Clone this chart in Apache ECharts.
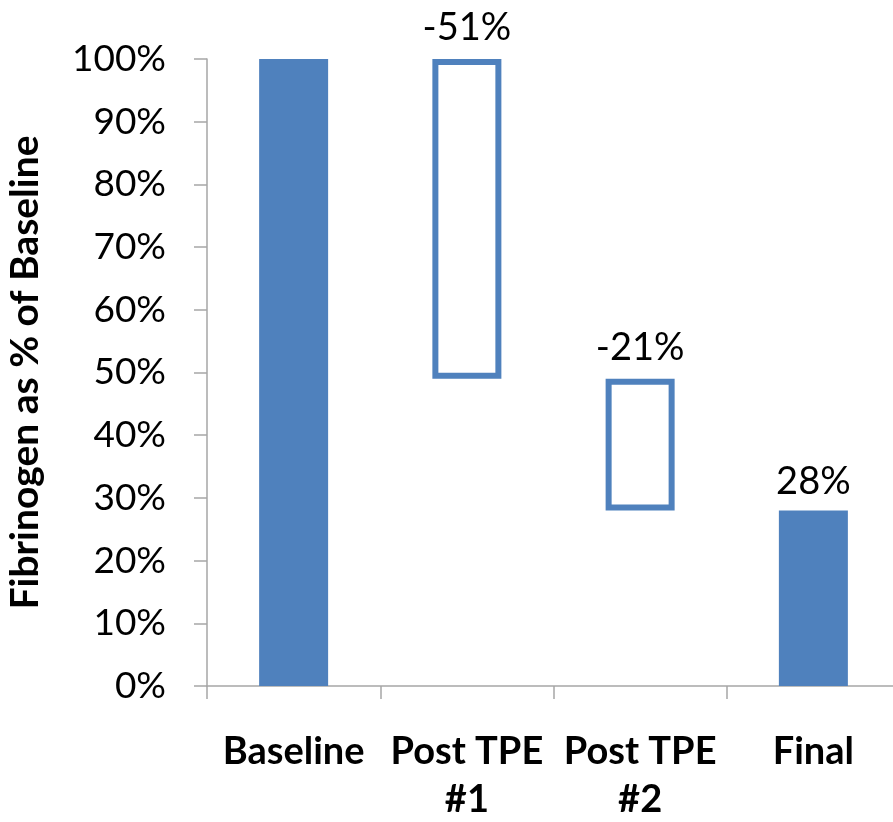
<!DOCTYPE html>
<html>
<head>
<meta charset="utf-8">
<script src="https://cdn.jsdelivr.net/npm/echarts@6/dist/echarts.min.js"></script>
<style>
html,body{margin:0;padding:0;background:#fff;}
#chart{width:893px;height:822px;}
</style>
</head>
<body>
<div id="chart"></div>
<script>
var categories = ['Baseline', 'Post TPE\n#1', 'Post TPE\n#2', 'Final'];
var baseValues = [0, 49, 28, 0];
var filledValues = [100, '-', '-', 28];
var hollowValues = ['-', 51, 21, '-'];
var barLabels = ['', '-51%', '-21%', '28%'];
var yTicks = [0, 10, 20, 30, 40, 50, 60, 70, 80, 90, 100];

var blue = '#4f81bd';
var font = 'Lato';
var chart = echarts.init(document.getElementById('chart'));
function labelFmt(p){ return barLabels[p.dataIndex]; }
chart.setOption({
  animation: false,
  textStyle: { fontFamily: font },
  grid: { left: 207, right: -7, top: 59, bottom: 136, containLabel: false, outerBoundsMode: 'none' },
  xAxis: {
    type: 'category',
    data: categories,
    axisLine: { lineStyle: { color: '#a6a6a6', width: 1.5 } },
    axisTick: { show: true, length: 13, interval: 0, lineStyle: { color: '#a6a6a6', width: 1.5 } },
    axisLabel: { fontFamily: font, fontSize: 38, fontWeight: 'bold', color: '#000', margin: 42, lineHeight: 48, interval: 0 }
  },
  yAxis: {
    type: 'value',
    min: 0, max: 100, interval: 10,
    name: 'Fibrinogen as % of Baseline',
    nameLocation: 'middle',
    nameGap: 162,
    nameTextStyle: { fontFamily: font, fontSize: 39, fontWeight: 'bold', color: '#000' },
    axisLine: { show: true, lineStyle: { color: '#a6a6a6', width: 1.5 } },
    axisTick: { show: true, length: 13, lineStyle: { color: '#a6a6a6', width: 1.5 } },
    splitLine: { show: false },
    axisLabel: { fontFamily: font, fontSize: 37, color: '#000', margin: 41,
      formatter: function(v){ return yTicks.indexOf(v) >= 0 ? v + '%' : ''; } }
  },
  series: [
    { type: 'bar', stack: 'w', data: baseValues, barWidth: 69, silent: true,
      itemStyle: { color: 'transparent' } },
    { type: 'bar', stack: 'w', data: filledValues, barWidth: 69,
      itemStyle: { color: blue },
      label: { show: true, position: 'top', distance: 10, fontFamily: font, fontSize: 38, color: '#000', formatter: labelFmt } },
    { type: 'bar', stack: 'w', data: hollowValues, barWidth: 69,
      itemStyle: { color: '#fff', borderColor: blue, borderWidth: 6 },
      label: { show: true, position: 'top', distance: 12, fontFamily: font, fontSize: 38, color: '#000', formatter: labelFmt } }
  ]
});
</script>
</body>
</html>
